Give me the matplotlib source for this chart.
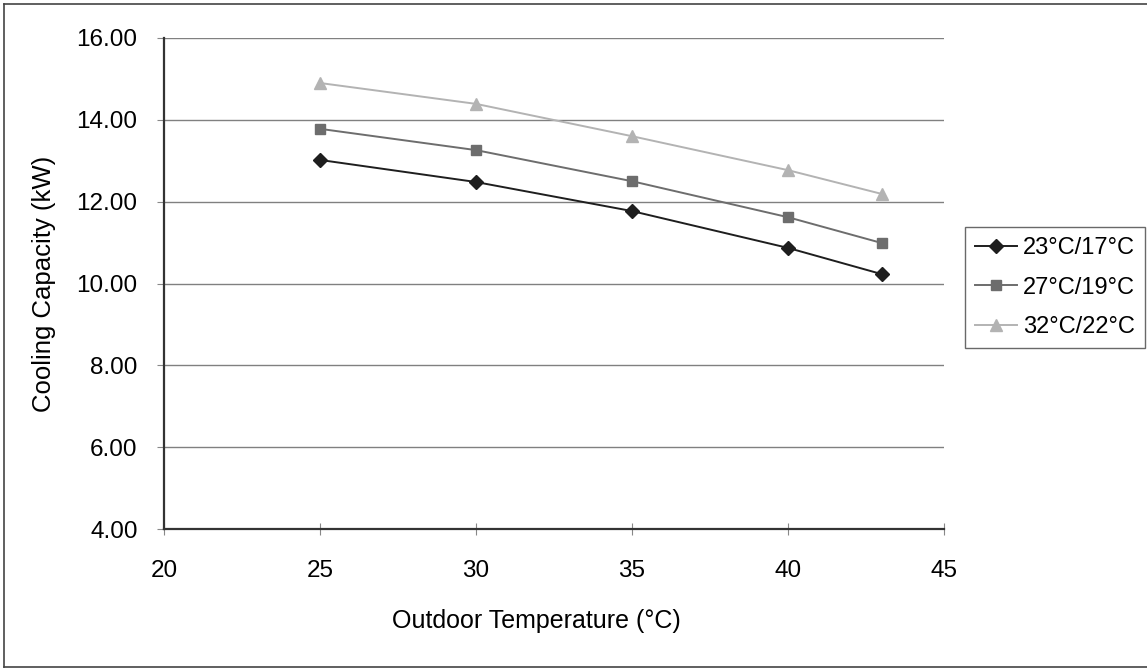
import matplotlib
matplotlib.use('Agg')
import matplotlib.pyplot as plt
from matplotlib.lines import Line2D

plt.rcParams['font.family'] = ['Liberation Sans', 'DejaVu Sans']

outdoor_temp = [25, 30, 35, 40, 43]
cap_23_17 = [13.02, 12.48, 11.77, 10.87, 10.23]
cap_27_19 = [13.78, 13.26, 12.50, 11.62, 10.99]
cap_32_22 = [14.90, 14.39, 13.60, 12.77, 12.19]
series_labels = ['23°C/17°C', '27°C/19°C', '32°C/22°C']
y_ticks = [4, 6, 8, 10, 12, 14, 16]
x_ticks = [20, 25, 30, 35, 40, 45]

W, H = 1147, 668
fig = plt.figure(figsize=(W / 100, H / 100), dpi=100)
ax = fig.add_axes([164 / W, 1 - 529 / H, 780 / W, 491 / H])

fs = 17.5
ax.plot(outdoor_temp, cap_23_17, color='#1e1e1e', lw=1.4, marker='D', ms=7,
        label=series_labels[0], zorder=5)
ax.plot(outdoor_temp, cap_27_19, color='#6d6d6d', lw=1.4, marker='s', ms=6.5,
        label=series_labels[1], zorder=4)
ax.plot(outdoor_temp, cap_32_22, color='#b3b3b3', lw=1.4, marker='^', ms=8.5,
        label=series_labels[2], zorder=3)

ax.set_xlim(20, 45)
ax.set_ylim(4, 16)
ax.set_xticks(x_ticks)
ax.set_yticks(y_ticks)
ax.set_yticklabels(['%.2f' % v for v in y_ticks])
ax.grid(axis='y', color='#808080', lw=1.0)
ax.set_axisbelow(True)

for s in ['top', 'right']:
    ax.spines[s].set_visible(False)
for s in ['left', 'bottom']:
    ax.spines[s].set_color('#333333')
    ax.spines[s].set_linewidth(1.6)

ax.tick_params(axis='y', direction='out', length=5, width=0.8, color='#888888',
               pad=14, labelsize=fs)
ax.tick_params(axis='x', direction='inout', length=8, width=0.8, color='#888888',
               pad=18, labelsize=fs)

ax.set_ylabel('Cooling Capacity (kW)', fontsize=18.5)
ax.yaxis.set_label_coords(-0.139, 0.5)
ax.set_xlabel('Outdoor Temperature (°C)', fontsize=18, va='center')
ax.xaxis.set_label_coords(0.478, -0.187)

leg = fig.legend(loc='upper left', bbox_to_anchor=(965 / W, 1 - 227 / H),
                 fontsize=17, frameon=True, fancybox=False, handlelength=1.8,
                 handletextpad=0.25, labelspacing=0.75, borderpad=0.42,
                 borderaxespad=0)
leg.get_frame().set_edgecolor('#444444')
leg.get_frame().set_linewidth(1.0)

# outer frame
for xs, ys in [([4, 4], [4, 667]), ([4, 1150], [4, 4]), ([4, 1150], [667, 667])]:
    fig.add_artist(Line2D([x / W for x in xs], [1 - y / H for y in ys],
                          color='#444444', lw=1.2))

fig.savefig('out.png', dpi=100)
